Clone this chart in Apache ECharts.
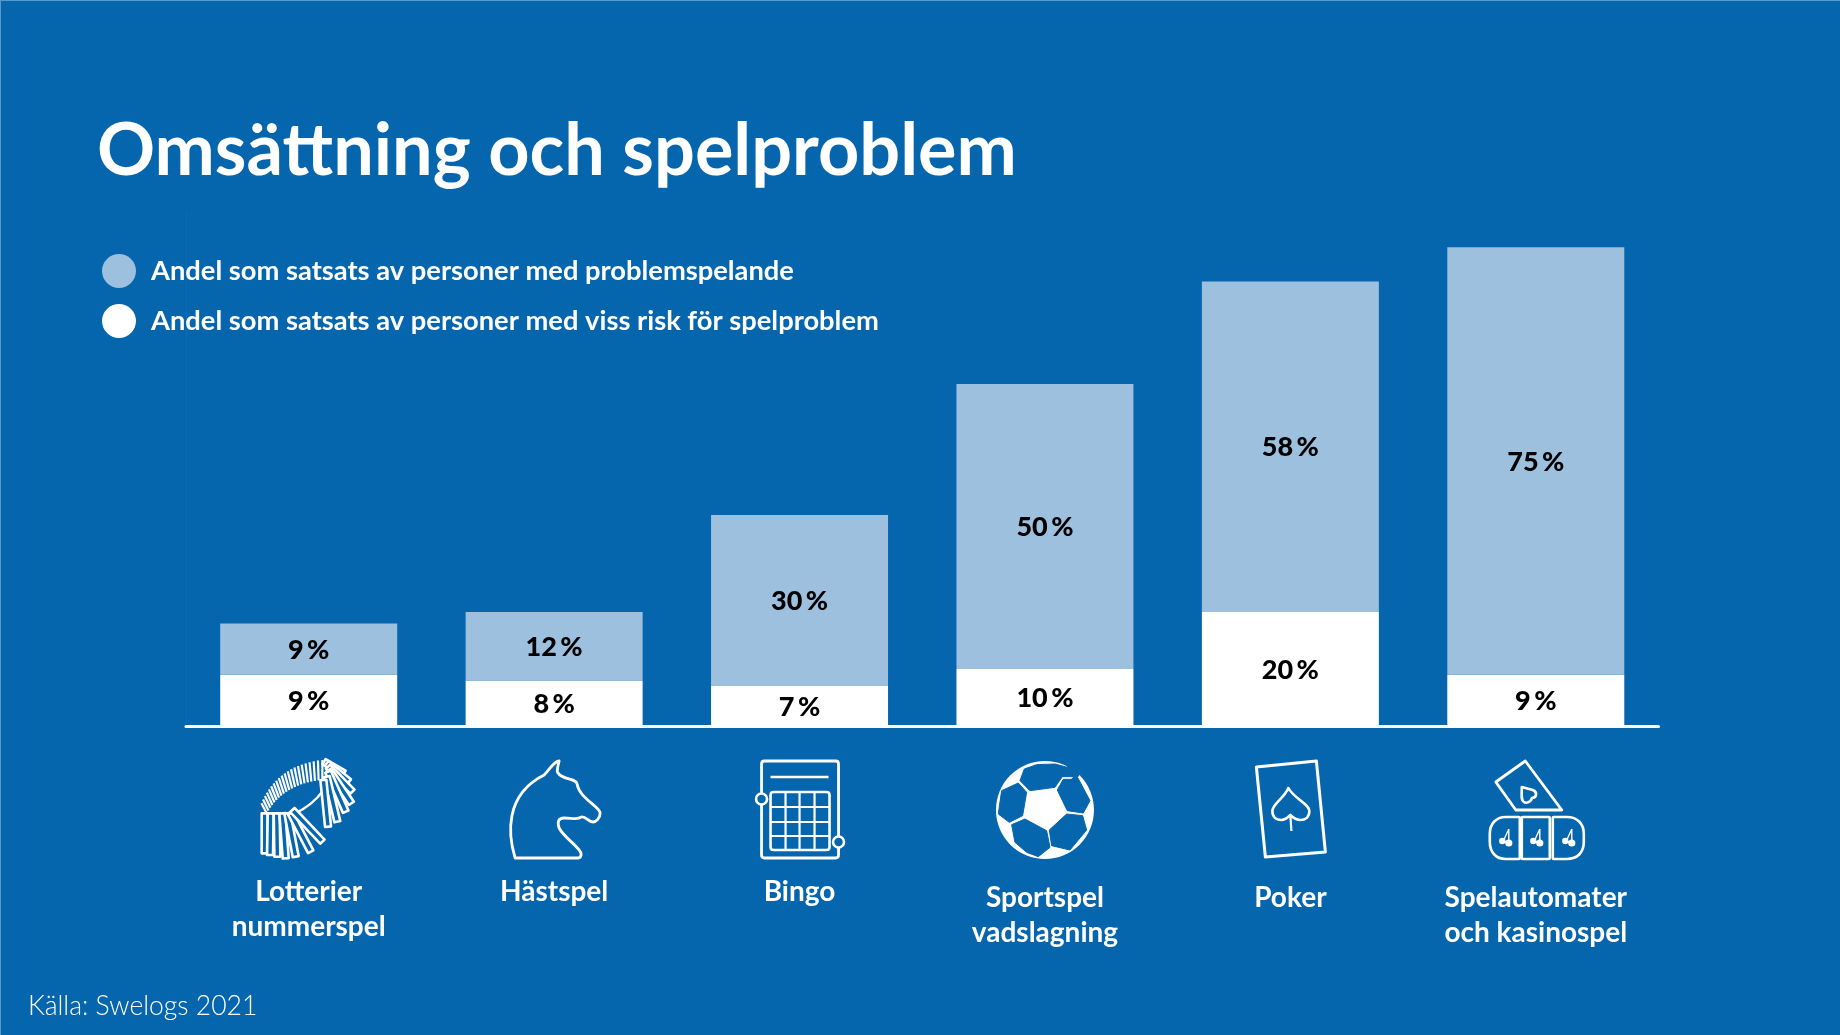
<!DOCTYPE html>
<html>
<head>
<meta charset="utf-8">
<title>Omsättning och spelproblem</title>
<script src="https://cdn.jsdelivr.net/npm/echarts@6/dist/echarts.min.js"></script>
<style>
  html, body { margin: 0; padding: 0; background: #0565ad; }
  #chart { width: 1840px; height: 1035px; }
</style>
</head>
<body>
<div id="chart"></div>
<script>
var categories = ['Lotterier\nnummerspel', 'Hästspel', 'Bingo', 'Sportspel\nvadslagning', 'Poker', 'Spelautomater\noch kasinospel']
var riskValues = [9, 8, 7, 10, 20, 9]
var problemValues = [9, 12, 30, 50, 58, 75]
var riskName = 'Andel som satsats av personer med viss risk för spelproblem'
var problemName = 'Andel som satsats av personer med problemspelande'
var titleText = 'Omsättning och spelproblem'
var sourceText = 'Källa: Swelogs 2021'

var BG = '#0565ad'
var LIGHT = '#9dc0df'
var FONT = 'Lato, "Noto Sans", sans-serif'

// icons are drawn around the middle of each category, in pixels
function circle(x, y, r) {
  return 'M' + (x - r) + ' ' + y + 'a' + r + ' ' + r + ' 0 1 0 ' + (2 * r) + ' 0a' + r + ' ' + r + ' 0 1 0 ' + (-2 * r) + ' 0Z'
}

function strip(z) {
  // z = [x0, y0, x1, y1] in the 3x crop of the icon
  var x0 = z[0] / 3 - 68, y0 = z[1] / 3 - 65, x1 = z[2] / 3 - 68, y1 = z[3] / 3 - 65
  var dx = x1 - x0, dy = y1 - y0, len = Math.sqrt(dx * dx + dy * dy)
  var nx = -dy / len * 3, ny = dx / len * 3
  return 'M' + (x0 + nx) + ' ' + (y0 + ny) + 'L' + (x1 + nx) + ' ' + (y1 + ny) + 'L' + (x1 - nx) + ' ' + (y1 - ny) + 'L' + (x0 - nx) + ' ' + (y0 - ny) + 'Z'
}

function lotteryIcon() {
  var parts = []
  var rightFan = [[250, 50, 310, 85], [258, 55, 325, 110], [262, 65, 335, 140], [265, 75, 332, 175], [262, 80, 315, 200], [258, 95, 290, 230], [248, 105, 262, 245]]
  var leftFan = [[72, 205, 72, 325], [90, 205, 88, 330], [108, 205, 110, 335], [125, 205, 135, 340], [140, 205, 165, 335], [150, 205, 210, 320], [155, 195, 245, 290]]
  var ticks = ''
  for (var k = 0; k <= 20; k++) {
    var t = k / 20
    var ox = (1 - t) * (1 - t) * 62 + 2 * t * (1 - t) * 110 + t * t * 245
    var oy = (1 - t) * (1 - t) * 175 + 2 * t * (1 - t) * 60 + t * t * 45
    var ix = (1 - t) * (1 - t) * 78 + 2 * t * (1 - t) * 130 + t * t * 245
    var iy = (1 - t) * (1 - t) * 205 + 2 * t * (1 - t) * 115 + t * t * 105
    ticks += 'M' + (ox / 3 - 68) + ' ' + (oy / 3 - 65) + 'L' + (ix / 3 - 68) + ' ' + (iy / 3 - 65)
  }
  parts.push({ d: ticks, lw: 2.2 })
  parts.push({ d: 'M-13 3Q4 -5 14 -19', lw: 2.2 })
  rightFan.forEach(function (z) { parts.push({ d: strip(z), fill: BG, lw: 2.6 }) })
  leftFan.forEach(function (z) { parts.push({ d: strip(z), fill: BG, lw: 2.6 }) })
  return parts
}

var horseIcon = [
  { d: 'M-39 48C-46 25 -50 -15 -10 -35C-5 -40 0 -49 5 -49C4 -45 2 -37 4 -37C8 -30 22 -32 23 -26C25 -12 46 -3 46 3C46 8 42 12 39 12C34 12 32 6 27 7C24 10 18 8 10 8C4 8 3 12 5 18C10 28 27 38 27 44C27 47 26 48 24 48Z', lw: 2.8 }
]

function bingoIcon() {
  var grid = ''
  ;[-14, 0, 15].forEach(function (x) { grid += 'M' + x + ' -18L' + x + ' 40' })
  ;[-3, 12, 26].forEach(function (y) { grid += 'M-29 ' + y + 'L30 ' + y })
  return [
    { d: 'M-35 -49L36 -49Q39 -49 39 -46L39 45Q39 48 36 48L-35 48Q-38 48 -38 45L-38 -46Q-38 -49 -35 -49Z', lw: 2.8 },
    { d: 'M-29 -33L29 -33', lw: 2.6 },
    { d: 'M-26 -18L27 -18Q30 -18 30 -15L30 37Q30 40 27 40L-26 40Q-29 40 -29 37L-29 -15Q-29 -18 -26 -18Z', lw: 2.6 },
    { d: grid, lw: 2.2 },
    { d: circle(-38, -11, 5.5), fill: BG, lw: 2.6 },
    { d: circle(39, 32, 5.5), fill: BG, lw: 2.6 }
  ]
}

function ballPanel(points) {
  var d = ''
  points.forEach(function (p, i) {
    d += (i ? 'L' : 'M') + ((p[0] - 195) / 3) + ' ' + ((p[1] - 178) / 3)
  })
  return { d: d + 'Z', fill: BG, stroke: BG, lw: 1, lineJoin: 'round' }
}

var ballIcon = [
  { d: circle(0, 0, 49), fill: '#fff', lw: 0 },
  ballPanel([[133, 55], [170, 42], [225, 40], [262, 50], [268, 32], [305, 60], [294, 78], [272, 78], [247, 78], [225, 110], [150, 120], [120, 90]]),
  ballPanel([[294, 82], [330, 150], [310, 187], [262, 180], [232, 118], [250, 86], [274, 86], [286, 75]]),
  ballPanel([[115, 97], [140, 125], [128, 195], [88, 215], [55, 190], [65, 120]]),
  ballPanel([[95, 222], [135, 205], [200, 240], [210, 290], [175, 318], [140, 305], [105, 275]]),
  ballPanel([[208, 238], [260, 190], [308, 195], [320, 238], [270, 298], [215, 285]])
]

var pokerIcon = [
  { d: 'M-34 -43L26 -49L35 42L-25 47Z', lw: 3, lineJoin: 'round' },
  { d: 'M-2 -22C-6 -12 -18 -6 -18 1C-18 8 -13 10 -9 10C-5 10 -2 7 0 5C2 7 5 10 10 10C15 10 19 7 19 1C19 -6 3 -12 -2 -22Z', lw: 2.6 },
  { d: 'M0 5L1 21', lw: 2.2 }
]

function casinoIcon() {
  var parts = [
    { d: 'M-10.5 -49L-40 -28L-20 0L26 0Z', lw: 2.8, lineJoin: 'round' },
    { d: 'M-14 -23L-3 -20C2 -18 1 -12 -4 -12C-4 -9 -9 -6 -12 -8C-15 -10 -14 -15 -14 -23Z', lw: 2.6, lineJoin: 'round' },
    { d: 'M-17 7L-30 7C-40 7 -46 14 -46 24L-46 32C-46 42 -40 49 -30 49L-17 49Q-16 49 -16 48L-16 8Q-16 7 -17 7Z', lw: 2.6 },
    { d: 'M-13 7L13 7Q14 7 14 8L14 48Q14 49 13 49L-13 49Q-14 49 -14 48L-14 8Q-14 7 -13 7Z', lw: 2.6 },
    { d: 'M18 7L31 7C42 7 48 14 48 24L48 32C48 42 42 49 31 49L18 49Q17 49 17 48L17 8Q17 7 18 7Z', lw: 2.6 }
  ]
  ;[-31, 0, 32].forEach(function (c) {
    parts.push({ d: 'M' + (c + 4) + ' 19L' + (c - 1) + ' 30M' + (c + 4) + ' 19L' + (c + 4) + ' 32', lw: 1.4 })
    parts.push({ d: circle(c - 2.5, 31, 3.2) + circle(c + 4, 33, 3.6), fill: '#fff', lw: 0 })
  })
  return parts
}

var icons = [lotteryIcon(), horseIcon, bingoIcon(), ballIcon, pokerIcon, casinoIcon()]

function renderIcon(params, api) {
  var i = api.value(0)
  var p = api.coord([i, 0])
  return {
    type: 'group',
    x: p[0],
    y: p[1] + 84,
    children: icons[i].map(function (part) {
      return {
        type: 'path',
        shape: { pathData: part.d },
        style: {
          fill: part.fill || 'none',
          stroke: part.lw ? (part.stroke || '#fff') : 'none',
          lineWidth: part.lw,
          lineJoin: part.lineJoin || 'round'
        }
      }
    })
  }
}

var barLabel = { show: true, position: 'inside', formatter: '{c}\u2009%', color: '#000', fontSize: 27, fontWeight: 900, fontFamily: FONT, offset: [0, 1] }

var chart = echarts.init(document.getElementById('chart'))

chart.setOption({
  animation: false,
  backgroundColor: BG,
  textStyle: { fontFamily: FONT },
  title: [
    { text: titleText, left: 92, top: 111, textStyle: { color: '#fff', fontSize: 72, fontWeight: 'bold', fontFamily: FONT } },
    { text: sourceText, left: 23, top: 988, textStyle: { color: '#fff', fontSize: 26.5, fontWeight: 300, fontFamily: FONT } }
  ],
  legend: {
    orient: 'vertical',
    left: 97,
    top: 249,
    itemWidth: 34,
    itemHeight: 34,
    itemGap: 16,
    icon: 'circle',
    data: [problemName, riskName],
    textStyle: { color: '#fff', fontSize: 27.3, fontWeight: 'bold', fontFamily: FONT, padding: [0, 0, 0, 10] }
  },
  grid: { left: 186, right: 181.5, top: 213, bottom: 309 },
  xAxis: {
    type: 'category',
    data: categories,
    axisLine: { lineStyle: { color: '#fff', width: 3 } },
    axisTick: { show: false },
    axisLabel: {
      margin: 148,
      color: '#fff',
      fontSize: 28,
      fontWeight: 'bold',
      lineHeight: 35,
      interval: 0,
      formatter: function (value, index) {
        var lines = value.split('\n').map(function (s) { return '{n|' + s + '}' })
        if (index >= 3) lines.unshift('{gap|}')
        return lines.join('\n')
      },
      rich: {
        n: { color: '#fff', fontSize: 28, fontWeight: 'bold', lineHeight: 35, fontFamily: FONT },
        gap: { lineHeight: 6, height: 6 }
      }
    }
  },
  yAxis: {
    type: 'value',
    min: 0,
    max: 90,
    splitLine: { show: false },
    axisTick: { show: false },
    axisLabel: { show: false },
    axisLine: { show: true, lineStyle: { color: '#0b6cb2', width: 1 } }
  },
  series: [
    {
      name: riskName,
      type: 'bar',
      stack: 'a',
      barWidth: 177,
      data: riskValues,
      itemStyle: { color: '#fff' },
      label: barLabel
    },
    {
      name: problemName,
      type: 'bar',
      stack: 'a',
      barWidth: 177,
      data: problemValues,
      itemStyle: { color: LIGHT },
      label: barLabel
    },
    {
      type: 'custom',
      data: categories.map(function (c, i) { return [i] }),
      encode: { x: 0 },
      renderItem: renderIcon,
      silent: true,
      z: 5
    }
  ],
  graphic: [
    { type: 'rect', left: 0, top: 0, shape: { width: 1840, height: 1 }, style: { fill: '#5a9acb' } },
    { type: 'rect', left: 0, top: 0, shape: { width: 1, height: 1035 }, style: { fill: '#5a9acb' } }
  ]
})
</script>
</body>
</html>
